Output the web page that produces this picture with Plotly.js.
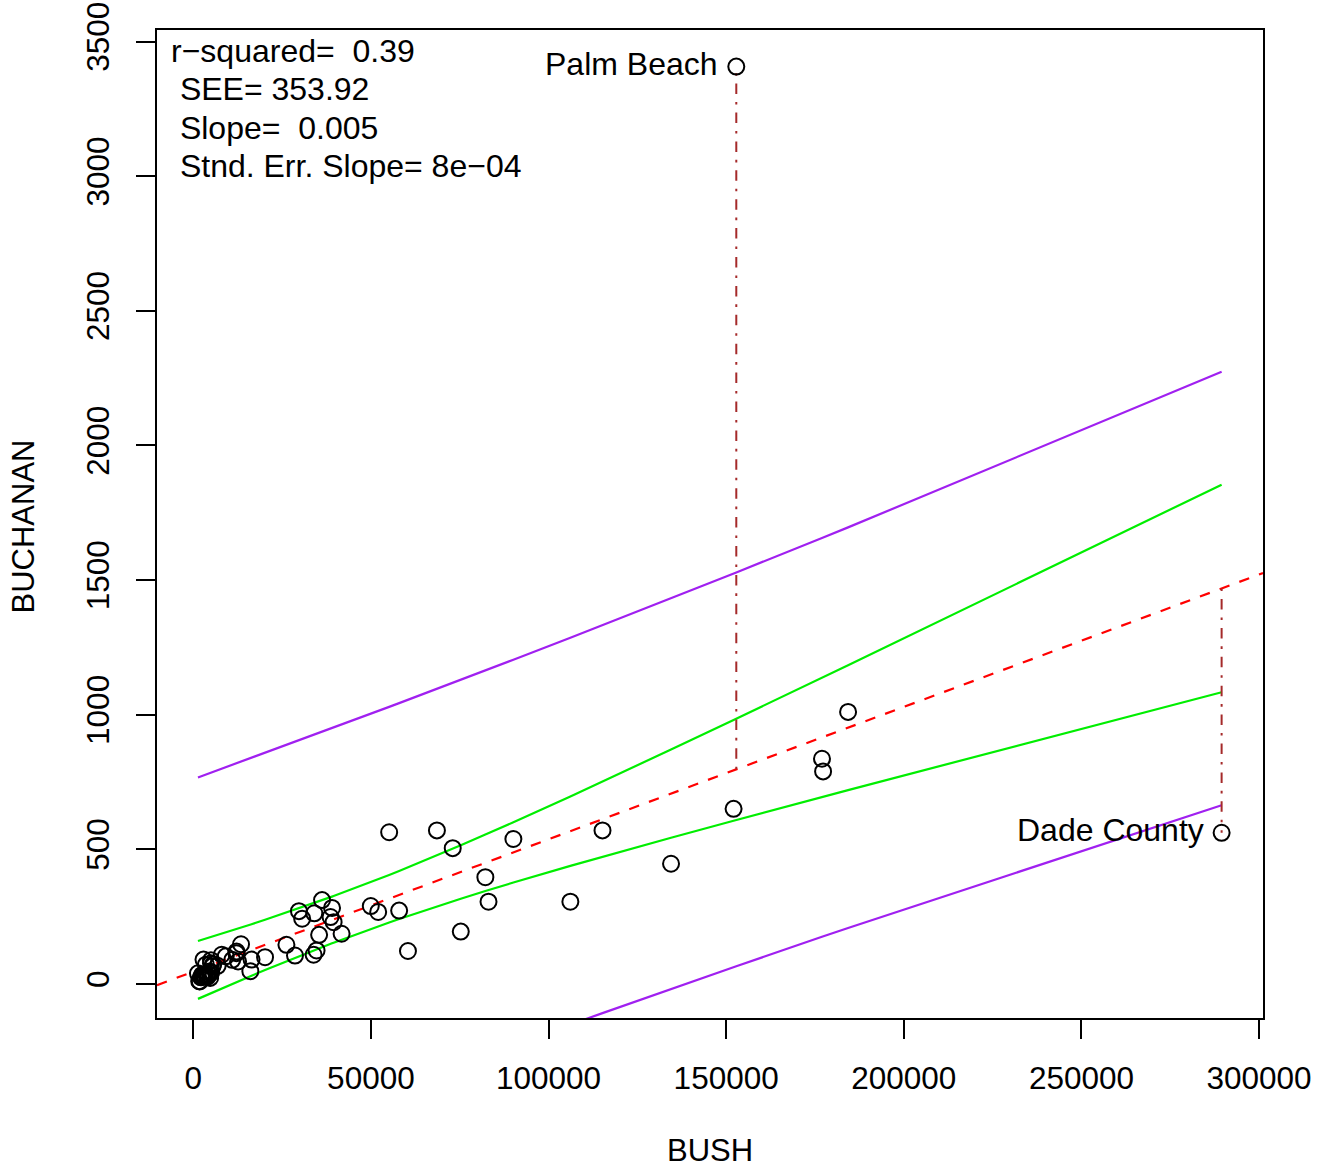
<!DOCTYPE html>
<html>
<head>
<meta charset="utf-8">
<script src="https://cdn.plot.ly/plotly-3.0.1.min.js"></script>
<style>
  html, body { margin: 0; padding: 0; background: #fff; }
  #chart { width: 1322px; height: 1168px; }
</style>
</head>
<body>
<div id="chart"></div>
<script>
// Florida 2000 presidential vote by county
const county = ["ALACHUA","BAKER","BAY","BRADFORD","BREVARD","BROWARD","CALHOUN","CHARLOTTE","CITRUS","CLAY",
  "COLLIER","COLUMBIA","DADE","DESOTO","DIXIE","DUVAL","ESCAMBIA","FLAGLER","FRANKLIN","GADSDEN",
  "GILCHRIST","GLADES","GULF","HAMILTON","HARDEE","HENDRY","HERNANDO","HIGHLANDS","HILLSBOROUGH","HOLMES",
  "INDIAN RIVER","JACKSON","JEFFERSON","LAFAYETTE","LAKE","LEE","LEON","LEVY","LIBERTY","MADISON",
  "MANATEE","MARION","MARTIN","MONROE","NASSAU","OKALOOSA","OKEECHOBEE","ORANGE","OSCEOLA","PALM BEACH",
  "PASCO","PINELLAS","POLK","PUTNAM","ST. JOHNS","ST. LUCIE","SANTA ROSA","SARASOTA","SEMINOLE","SUMTER",
  "SUWANNEE","TAYLOR","UNION","VOLUSIA","WAKULLA","WALTON","WASHINGTON"];
const bush = [34062,5610,38637,5413,115185,177279,2873,35419,29744,41745,
  60426,10964,289456,4256,2698,152082,73029,12608,2448,4750,
  3300,1840,3546,2153,3764,4743,30646,20196,176967,4985,
  28627,9138,2481,1669,49963,106141,39053,6860,1316,3038,
  57948,55135,33864,16059,16404,52043,5058,134476,26216,152846,
  68581,184312,90101,13439,39497,34705,36248,83100,75293,12126,
  8014,4051,2326,82214,4511,12176,4983];
const buchanan = [262,73,248,65,570,789,90,182,270,186,
  122,89,561,36,29,650,504,83,33,39,
  29,9,71,24,30,22,242,99,836,76,
  105,102,29,10,289,305,282,67,39,29,
  272,563,108,47,90,267,43,446,145,3407,
  570,1010,538,147,229,124,311,305,194,114,
  108,27,26,396,46,120,88];
const labelled = ["PALM BEACH", "DADE"];
const labelText = ["Palm Beach", "Dade County"];
const statLines = ["r\u2212squared=\u00a0\u00a00.39", "\u00a0SEE= 353.92", "\u00a0Slope=\u00a0\u00a00.005", "\u00a0Stnd. Err. Slope= 8e\u221204"];
const xTicks = [0, 50000, 100000, 150000, 200000, 250000, 300000];
const yTicks = [0, 500, 1000, 1500, 2000, 2500, 3000, 3500];

// least squares fit of BUCHANAN on BUSH, with 95% confidence and prediction bands
const n = bush.length;
const mx = bush.reduce((a, b) => a + b, 0) / n;
const my = buchanan.reduce((a, b) => a + b, 0) / n;
let sxx = 0, sxy = 0;
for (let i = 0; i < n; i++) { sxx += (bush[i] - mx) ** 2; sxy += (bush[i] - mx) * (buchanan[i] - my); }
const b1 = sxy / sxx, b0 = my - b1 * mx;
let rss = 0;
for (let i = 0; i < n; i++) rss += (buchanan[i] - b0 - b1 * bush[i]) ** 2;
const s = Math.sqrt(rss / (n - 2));
const tq = 1.9971; // qt(0.975, 65)
const xs = bush.slice().sort((a, b) => a - b);
const fit = x => b0 + b1 * x;
const seM = x => s * Math.sqrt(1 / n + (x - mx) ** 2 / sxx);
const seP = x => s * Math.sqrt(1 + 1 / n + (x - mx) ** 2 / sxx);

const xRange = [-10214, 301104];
const yRange = [-126.9, 3542.9];

const FONT = "Liberation Sans, Arial, Helvetica, sans-serif";
const traces = [];
function band(f, color) {
  traces.push({ x: xs, y: xs.map(f), mode: "lines", line: { color: color, width: 2.2 }, hoverinfo: "skip" });
}
band(x => fit(x) + tq * seP(x), "#A020F0");
band(x => fit(x) - tq * seP(x), "#A020F0");
band(x => fit(x) + tq * seM(x), "#00EE00");
band(x => fit(x) - tq * seM(x), "#00EE00");
// regression line across whole plot
traces.push({ x: xRange, y: xRange.map(fit), mode: "lines",
  line: { color: "#FF0000", width: 2.2, dash: "10.5px,10.5px" }, hoverinfo: "skip" });
// residual segments for labelled counties
labelled.forEach(c => {
  const i = county.indexOf(c);
  traces.push({ x: [bush[i], bush[i]], y: [fit(bush[i]), buchanan[i]], mode: "lines",
    line: { color: "#A52A2A", width: 2, dash: "2.6px,7.9px,10.5px,7.9px" }, hoverinfo: "skip" });
});
traces.push({ x: bush, y: buchanan, mode: "markers", text: county,
  marker: { symbol: "circle-open", size: 16, color: "#000", line: { color: "#000", width: 2 } } });

const annotations = [];
labelled.forEach((c, k) => {
  const i = county.indexOf(c);
  annotations.push({ x: bush[i], y: buchanan[i], xref: "x", yref: "y", text: labelText[k],
    showarrow: false, xanchor: "right", yanchor: "middle", xshift: -16, yshift: 3,
    font: { family: FONT, size: 32, color: "#000" } });
});
statLines.forEach((t, k) => {
  annotations.push({ x: 0.0, y: 1, xref: "paper", yref: "paper", text: t, showarrow: false,
    xanchor: "left", yanchor: "middle", xshift: 12, yshift: -21 - 38.4 * k,
    font: { family: FONT, size: 32, color: "#000" } });
});
annotations.push({ x: 0.5, y: -0.1345, xref: "paper", yref: "paper", text: "BUSH", showarrow: false,
  xanchor: "center", yanchor: "middle", font: { family: FONT, size: 31, color: "#000" } });
annotations.push({ x: -0.1207, y: 0.497, xref: "paper", yref: "paper", text: "BUCHANAN", showarrow: false,
  textangle: -90, xanchor: "center", yanchor: "middle", font: { family: FONT, size: 31, color: "#000" } });

const axisCommon = {
  showgrid: false, zeroline: false, showline: true, mirror: true, linecolor: "#000", linewidth: 2,
  ticks: "outside", ticklen: 19, tickwidth: 2, tickcolor: "#000", tickformat: "d",
  tickfont: { family: FONT, size: 31.5, color: "#000" }, fixedrange: true
};
const layout = {
  width: 1322, height: 1168,
  margin: { l: 157, r: 59, t: 30, b: 150 },
  paper_bgcolor: "#fff", plot_bgcolor: "#fff",
  showlegend: false,
  xaxis: Object.assign({}, axisCommon, { range: xRange, tickmode: "array", tickvals: xTicks,
    ticktext: xTicks.map(String), ticklabelstandoff: 12 }),
  yaxis: Object.assign({}, axisCommon, { range: yRange, tickmode: "array", tickvals: yTicks,
    ticktext: yTicks.map(String), tickangle: -90, ticklabelstandoff: 14 }),
  annotations: annotations
};
Plotly.newPlot("chart", traces, layout, { staticPlot: true, displayModeBar: false });
</script>
</body>
</html>
